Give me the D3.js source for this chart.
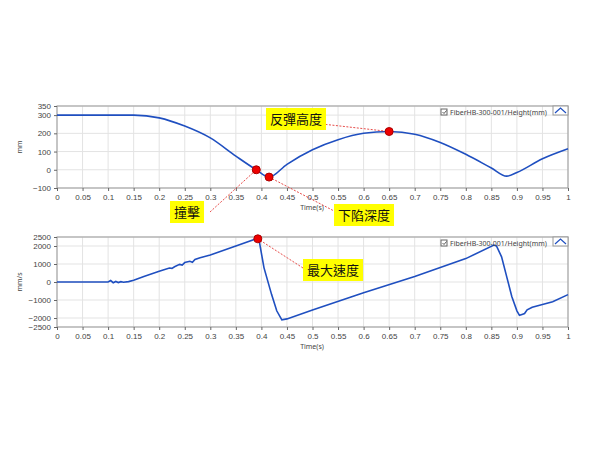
<!DOCTYPE html>
<html><head><meta charset="utf-8">
<script src="https://cdn.jsdelivr.net/npm/d3@7"></script>
<style>body{margin:0;background:#fff}svg{font-family:"Segoe UI","Noto Sans",sans-serif}</style>
</head><body><svg id="chart" width="600" height="450"></svg>
<script>
const xTicks = [0,0.05,0.1,0.15,0.2,0.25,0.3,0.35,0.4,0.45,0.5,0.55,0.6,0.65,0.7,0.75,0.8,0.85,0.9,0.95,1];
const heightT = [0,0.05,0.1,0.15,0.2,0.25,0.3,0.35,0.39,0.415,0.45,0.5,0.55,0.6,0.65,0.7,0.75,0.8,0.85,0.88,0.9,0.95,1];
const heightV = [300,300,300,300,285,240,175,75,0,-40,30,110,165,200,210,195,150,85,10,-35,-15,60,115];
const heightTicks = [-100,0,100,200,300,350];
const speedT = [0,0.1,0.105,0.11,0.115,0.12,0.125,0.13,0.14,0.15,0.17,0.2,0.22,0.225,0.23,0.24,0.245,0.25,0.26,0.265,0.27,0.28,0.3,0.35,0.39,0.395,0.405,0.42,0.43,0.44,0.45,0.5,0.6,0.7,0.8,0.855,0.86,0.87,0.88,0.89,0.9,0.905,0.91,0.915,0.92,0.93,0.95,0.97,1];
const speedV = [0,0,80,-40,30,-30,20,-10,20,100,300,600,780,760,850,980,940,1080,1150,1100,1250,1350,1500,2000,2400,2400,800,-700,-1600,-2100,-2050,-1550,-600,300,1300,2050,2000,1400,300,-800,-1600,-1850,-1800,-1750,-1550,-1400,-1250,-1100,-700];
const speedTicks = [-2500,-2000,-1000,0,1000,2000,2500];
const notes = [
  {txt:"反彈高度", panel:0, t:0.65, v:210, bx:266, by:108, ax:322, ay:124},
  {txt:"撞擊", panel:0, t:0.39, v:0, bx:170, by:201, ax:210, ay:212},
  {txt:"下陷深度", panel:0, t:0.415, v:-40, bx:334, by:204, ax:336, ay:212},
  {txt:"最大速度", panel:1, t:0.393, v:2400, bx:303, by:259, ax:303, ay:268}
];

const svg = d3.select("#chart");
const x = d3.scaleLinear().domain([0,1]).range([57,568]);
const panels = [
  {y:d3.scaleLinear().domain([-100,350]).range([188,106]), ticks:heightTicks, t:heightT, v:heightV, unit:"mm", curve:d3.curveMonotoneX},
  {y:d3.scaleLinear().domain([-2500,2500]).range([327,237]), ticks:speedTicks, t:speedT, v:speedV, unit:"mm/s", curve:d3.curveLinear}
];

svg.append("defs").append("marker").attr("id","arr").attr("viewBox","0 0 6 6").attr("refX",5).attr("refY",3)
  .attr("markerWidth",6).attr("markerHeight",6).attr("orient","auto")
  .append("path").attr("d","M0,0L6,3L0,6z").attr("fill","#e0201c");

panels.forEach(p => {
  const g = svg.append("g");
  const [y0,y1] = p.y.range();
  g.selectAll(".vg").data(xTicks).join("line").attr("x1",d=>x(d)).attr("x2",d=>x(d)).attr("y1",y1).attr("y2",y0).attr("stroke","#e3e3e3");
  g.selectAll(".hg").data(p.ticks).join("line").attr("x1",57).attr("x2",568).attr("y1",d=>p.y(d)).attr("y2",d=>p.y(d)).attr("stroke","#e3e3e3");
  g.append("rect").attr("x",57).attr("y",y1).attr("width",511).attr("height",y0-y1).attr("fill","none").attr("stroke","#999");
  g.append("g").attr("transform",`translate(0,${y0})`).call(d3.axisBottom(x).tickValues(xTicks).tickSize(3).tickFormat(d=>d3.format("~g")(d)))
    .call(a=>{a.select(".domain").remove();a.selectAll("text").attr("font-size",8).attr("fill","#444");a.selectAll("line").attr("stroke","#666");});
  g.append("g").attr("transform","translate(57,0)").call(d3.axisLeft(p.y).tickValues(p.ticks).tickSize(3).tickFormat(d3.format("d")))
    .call(a=>{a.select(".domain").remove();a.selectAll("text").attr("font-size",8).attr("fill","#444");a.selectAll("line").attr("stroke","#666");});
  g.append("text").attr("transform",`translate(22,${(y0+y1)/2}) rotate(-90)`).attr("text-anchor","middle").attr("font-size",7).attr("fill","#444").text(p.unit);
  g.append("text").attr("x",312).attr("y",y0+22).attr("text-anchor","middle").attr("font-size",7).attr("fill","#444").text("Time(s)");
  const data = p.t.map((t,i)=>[t,p.v[i]]);
  g.append("path").datum(data).attr("fill","none").attr("stroke","#1f4fc0").attr("stroke-width",1.6)
    .attr("d",d3.line().x(d=>x(d[0])).y(d=>p.y(d[1])).curve(p.curve));
  g.append("rect").attr("x",441).attr("y",y1+3).attr("width",6).attr("height",6).attr("fill","#fff").attr("stroke","#666");
  g.append("path").attr("d",`M442.5,${y1+6}l1.5,1.5l2.5,-3`).attr("fill","none").attr("stroke","#333").attr("stroke-width",0.8);
  g.append("text").attr("x",450).attr("y",y1+9).attr("font-size",7).attr("fill","#444").text("FiberHB-300-001/Height(mm)");
  g.append("rect").attr("x",553).attr("y",y1).attr("width",15).attr("height",9).attr("fill","#fff").attr("stroke","#999");
  g.append("path").attr("d",`M555,${y1+7}l5.5,-5l5.5,5`).attr("fill","none").attr("stroke","#1f4fc0").attr("stroke-width",1.2);
});

notes.forEach(n => {
  const p = panels[n.panel];
  const px = x(n.t), py = p.y(n.v);
  const g = svg.append("g");
  g.append("line").attr("x1",n.ax).attr("y1",n.ay).attr("x2",px).attr("y2",py)
    .attr("stroke","#e0201c").attr("stroke-width",0.8).attr("stroke-dasharray","2,1.5").attr("marker-end","url(#arr)");
  g.append("circle").attr("cx",px).attr("cy",py).attr("r",4).attr("fill","#e00").attr("stroke","#a00");
  const box = g.append("rect").attr("x",n.bx).attr("y",n.by).attr("height",22).attr("fill","#ffff00");
  const t = g.append("text").attr("x",n.bx+4).attr("y",n.by+16).attr("font-size",13).attr("font-family","Noto Sans CJK TC").attr("fill","#111").text(n.txt);
  box.attr("width",t.node().getComputedTextLength()+8);
});
</script></body></html>
